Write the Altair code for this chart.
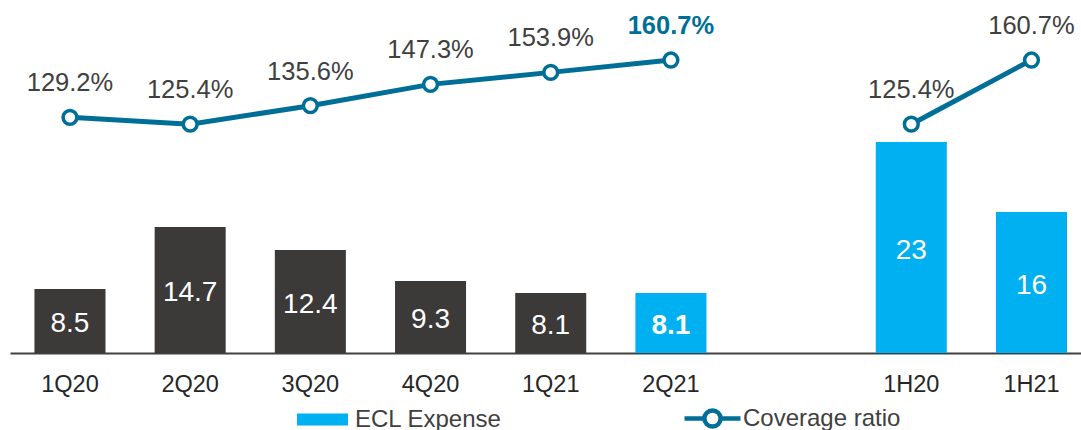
import altair as alt
import pandas as pd

# ---- data ----
categories = ["1Q20", "2Q20", "3Q20", "4Q20", "1Q21", "2Q21", "1H20", "1H21"]
ecl_values = [8.5, 14.7, 12.4, 9.3, 8.1, 8.1, 23.2, 16.2]
ecl_labels = ["8.5", "14.7", "12.4", "9.3", "8.1", "8.1", "23", "16"]
coverage_values = [129.2, 125.4, 135.6, 147.3, 153.9, 160.7, 125.4, 160.7]
coverage_labels = ["129.2%", "125.4%", "135.6%", "147.3%", "153.9%", "160.7%", "125.4%", "160.7%"]
segments = ["quarterly"] * 6 + ["half-year"] * 2
bar_series = ["Prior quarters"] * 5 + ["ECL Expense"] * 3
highlight = [False] * 5 + [True] + [False] * 2

x_domain = categories[:6] + [" "] + categories[6:]

FONT = "Liberation Sans"
CYAN = "#00B0F0"
DARK = "#3B3A38"
LINE = "#006F98"
GREY = "#404040"

BAR_BASE = 2.1
bar_scale = alt.Scale(domain=[BAR_BASE, 37.4], nice=False, zero=False)
line_scale = alt.Scale(domain=[-0.4, 193.7], nice=False, zero=False)

df = pd.DataFrame({
    "cat": categories,
    "ecl": ecl_values,
    "ecl_label": ecl_labels,
    "cov": coverage_values,
    "cov_label": coverage_labels,
    "segment": segments,
    "series": bar_series,
    "hl": highlight,
    "line_series": ["Coverage ratio"] * len(categories),
})

base = alt.Chart(df)

x_enc = alt.X(
    "cat:N",
    scale=alt.Scale(domain=x_domain, paddingInner=0.409, paddingOuter=0.16, align=0.636),
    axis=alt.Axis(
        title=None, labelAngle=0, labelFont=FONT, labelFontSize=23.5, labelColor="#262626",
        ticks=False, tickSize=0, labelPadding=38, labelBaseline="alphabetic",
        domainColor=GREY, domainWidth=2, grid=False,
    ),
)

bars = base.mark_bar().encode(
    x=x_enc,
    y=alt.Y("ecl:Q", scale=bar_scale, axis=None),
    y2=alt.datum(BAR_BASE),
    color=alt.Color(
        "series:N",
        scale=alt.Scale(domain=["ECL Expense", "Prior quarters"], range=[CYAN, DARK]),
        legend=alt.Legend(
            values=["ECL Expense"], orient="none", legendX=287, legendY=394, title=None,
            symbolType="M-1,-0.235H1V0.235H-1Z", symbolSize=2601, symbolStrokeWidth=0,
            symbolOpacity=1, labelFont=FONT, labelFontSize=24, labelColor=GREY,
            labelOffset=7, padding=0,
        ),
    ),
)

bar_text_normal = base.transform_filter("!datum.hl").transform_calculate(
    mid=f"(datum.ecl + {BAR_BASE}) / 2"
).mark_text(color="white", font=FONT, fontSize=28, baseline="middle", dy=3).encode(
    x=x_enc,
    y=alt.Y("mid:Q", scale=bar_scale, axis=None),
    text="ecl_label:N",
)
bar_text_bold = base.transform_filter("datum.hl").transform_calculate(
    mid=f"(datum.ecl + {BAR_BASE}) / 2"
).mark_text(color="white", font=FONT, fontSize=28, fontWeight="bold", baseline="middle", dy=3).encode(
    x=x_enc,
    y=alt.Y("mid:Q", scale=bar_scale, axis=None),
    text="ecl_label:N",
)

bar_group = alt.layer(bars, bar_text_normal, bar_text_bold)

line = base.mark_line(strokeWidth=5).encode(
    x=x_enc,
    y=alt.Y("cov:Q", scale=line_scale, axis=None),
    detail="segment:N",
    stroke=alt.Stroke(
        "line_series:N",
        scale=alt.Scale(domain=["Coverage ratio"], range=[LINE]),
        legend=alt.Legend(
            orient="none", legendX=672, legendY=388, title=None,
            symbolType="M-1,0H-0.29M0.29,0H1M-0.29,0A0.29,0.29,0,1,1,0.29,0A0.29,0.29,0,1,1,-0.29,0Z",
            symbolSize=3136, symbolStrokeWidth=4.5, symbolFillColor="white",
            labelFont=FONT, labelFontSize=24, labelColor=GREY, labelOffset=0, padding=0,
        ),
    ),
)

points = base.mark_point(filled=True, fill="white", stroke=LINE, strokeWidth=3.5, size=190, opacity=1).encode(
    x=x_enc,
    y=alt.Y("cov:Q", scale=line_scale, axis=None),
)

labels_normal = base.transform_filter("!datum.hl").mark_text(
    dy=-26, baseline="alphabetic", font=FONT, fontSize=25.5, color=GREY
).encode(
    x=x_enc,
    y=alt.Y("cov:Q", scale=line_scale, axis=None),
    text="cov_label:N",
)
labels_bold = base.transform_filter("datum.hl").mark_text(
    dy=-26, baseline="alphabetic", font=FONT, fontSize=25.5, color=LINE, fontWeight="bold"
).encode(
    x=x_enc,
    y=alt.Y("cov:Q", scale=line_scale, axis=None),
    text="cov_label:N",
)

line_group = alt.layer(line, points, labels_normal, labels_bold)

chart = alt.layer(bar_group, line_group).resolve_scale(y="independent").properties(
    width=1071,
    height=353,
    autosize=alt.AutoSizeParams(type="none"),
    padding={"left": 10, "top": 0, "right": 0, "bottom": 77},
    background="white",
).configure_view(stroke=None)

chart.save("out.html", embed_options={"renderer": "svg", "actions": False})
